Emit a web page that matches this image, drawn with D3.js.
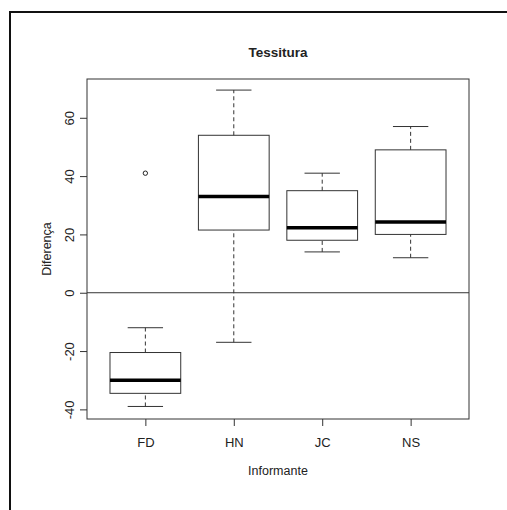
<!DOCTYPE html>
<html>
<head>
<meta charset="utf-8">
<script src="https://cdn.jsdelivr.net/npm/d3@7"></script>
<style>
  body { margin: 0; background: #fff; }
  text { font-family: "Liberation Sans", Arial, sans-serif; fill: #222; }
</style>
</head>
<body>
<div class="chart"></div>
<script>
// boxplot stats
const informantes = ['FD', 'HN', 'JC', 'NS'];
const whiskLow = [-39, -17, 14, 12];
const q1 = [-34.5, 21.5, 18, 20];
const medians = [-30, 33, 22.3, 24.3];
const q3 = [-20.5, 54, 35, 49];
const whiskHigh = [-12, 69.5, 41, 57];
const outliers = [{cat: 'FD', value: 41}];
const yTicks = [-40, -20, 0, 20, 40, 60];

const W = 507, H = 510;
const plot = {left: 87, right: 469, top: 79, bottom: 419};

const svg = d3.select('.chart')
    .append('svg')
    .attr('width', W)
    .attr('height', H);

svg.append('rect').attr('width', W).attr('height', H).attr('fill', '#fff');

// outer frame (top and left only visible)
svg.append('path')
    .attr('d', 'M10,' + H + ' V12 H' + W)
    .attr('fill', 'none')
    .attr('stroke', '#111')
    .attr('stroke-width', 2);

const xScale = d3.scaleLinear()
    .domain([0.34, 4.66])
    .range([plot.left, plot.right]);

const yScale = d3.scaleLinear()
    .domain([-43.3, 73.3])
    .range([plot.bottom, plot.top]);

const boxW = 0.8 * (xScale(1) - xScale(0));

// zero line
svg.append('line')
    .attr('x1', plot.left).attr('x2', plot.right)
    .attr('y1', yScale(0)).attr('y2', yScale(0))
    .attr('stroke', '#333');

const boxes = svg.append('g')
    .selectAll('g')
    .data(informantes)
    .enter()
    .append('g')
    .attr('transform', (d, i) => 'translate(' + xScale(i + 1) + ',0)');

// whiskers
boxes.append('line')
    .attr('y1', (d, i) => yScale(whiskLow[i]))
    .attr('y2', (d, i) => yScale(q1[i]))
    .attr('stroke', '#333')
    .attr('stroke-dasharray', '4,3');
boxes.append('line')
    .attr('y1', (d, i) => yScale(q3[i]))
    .attr('y2', (d, i) => yScale(whiskHigh[i]))
    .attr('stroke', '#333')
    .attr('stroke-dasharray', '4,3');

// whisker caps
boxes.append('line')
    .attr('x1', -boxW / 4).attr('x2', boxW / 4)
    .attr('y1', (d, i) => yScale(whiskLow[i]))
    .attr('y2', (d, i) => yScale(whiskLow[i]))
    .attr('stroke', '#333');
boxes.append('line')
    .attr('x1', -boxW / 4).attr('x2', boxW / 4)
    .attr('y1', (d, i) => yScale(whiskHigh[i]))
    .attr('y2', (d, i) => yScale(whiskHigh[i]))
    .attr('stroke', '#333');

// boxes
boxes.append('rect')
    .attr('x', -boxW / 2)
    .attr('width', boxW)
    .attr('y', (d, i) => yScale(q3[i]))
    .attr('height', (d, i) => yScale(q1[i]) - yScale(q3[i]))
    .attr('fill', 'none')
    .attr('stroke', '#333');

// medians
boxes.append('line')
    .attr('x1', -boxW / 2).attr('x2', boxW / 2)
    .attr('y1', (d, i) => yScale(medians[i]))
    .attr('y2', (d, i) => yScale(medians[i]))
    .attr('stroke', '#000')
    .attr('stroke-width', 3.5);

// outliers
svg.selectAll('.outlier')
    .data(outliers)
    .enter()
    .append('circle')
    .attr('cx', d => xScale(informantes.indexOf(d.cat) + 1))
    .attr('cy', d => yScale(d.value))
    .attr('r', 2.2)
    .attr('fill', 'none')
    .attr('stroke', '#222');

// plot box
svg.append('rect')
    .attr('x', plot.left).attr('y', plot.top)
    .attr('width', plot.right - plot.left)
    .attr('height', plot.bottom - plot.top)
    .attr('fill', 'none')
    .attr('stroke', '#333');

// axes
const xAxis = d3.axisBottom(xScale)
    .tickValues([1, 2, 3, 4])
    .tickFormat((d, i) => informantes[i])
    .tickSize(7)
    .tickPadding(12)
    .tickSizeOuter(0);

const gx = svg.append('g')
    .attr('transform', 'translate(0,' + plot.bottom + ')')
    .call(xAxis);
gx.select('.domain').remove();
gx.selectAll('line').attr('stroke', '#333');
gx.selectAll('text').attr('font-size', 13).attr('fill', '#222');

const yAxis = d3.axisLeft(yScale)
    .tickValues(yTicks)
    .tickFormat(d => String(d))
    .tickSize(7)
    .tickSizeOuter(0);

const gy = svg.append('g')
    .attr('transform', 'translate(' + plot.left + ',0)')
    .call(yAxis);
gy.select('.domain').remove();
gy.selectAll('line').attr('stroke', '#333');
gy.selectAll('.tick text')
    .attr('font-size', 13)
    .attr('fill', '#222')
    .attr('x', 0).attr('y', 0).attr('dy', 0)
    .attr('text-anchor', 'middle')
    .attr('transform', 'translate(-13,0) rotate(-90)');

// titles
svg.append('text')
    .attr('x', (plot.left + plot.right) / 2)
    .attr('y', 57)
    .attr('text-anchor', 'middle')
    .attr('font-size', 13.5)
    .attr('font-weight', 'bold')
    .text('Tessitura');

svg.append('text')
    .attr('x', (plot.left + plot.right) / 2)
    .attr('y', 475)
    .attr('text-anchor', 'middle')
    .attr('font-size', 12.5)
    .text('Informante');

svg.append('text')
    .attr('transform', 'translate(51,' + (plot.top + plot.bottom) / 2 + ') rotate(-90)')
    .attr('text-anchor', 'middle')
    .attr('font-size', 12.5)
    .text('Diferença');
</script>
</body>
</html>
